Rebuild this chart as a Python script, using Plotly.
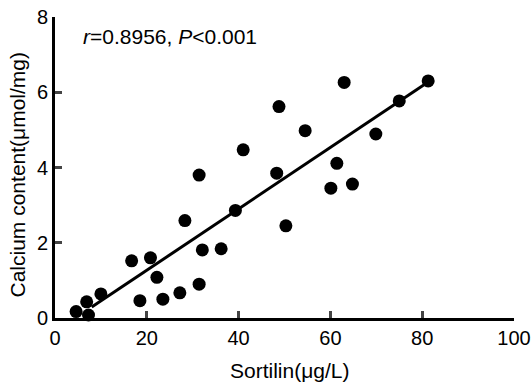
import plotly.graph_objects as go

sortilin = [4.6, 7.3, 6.9, 10.0, 16.7, 18.5, 20.8, 22.2, 23.5, 27.2, 28.3, 31.4, 31.4,
            32.1, 36.2, 39.3, 41.0, 48.3, 48.8, 50.3, 54.5, 60.1, 61.4, 63.0, 64.8,
            69.9, 75.0, 81.3]
calcium = [0.17, 0.08, 0.43, 0.64, 1.52, 0.46, 1.60, 1.08, 0.50, 0.67, 2.59, 0.90, 3.80,
           1.81, 1.84, 2.86, 4.47, 3.85, 5.62, 2.45, 4.98, 3.45, 4.11, 6.26, 3.56,
           4.89, 5.77, 6.30]

fit_x = [8.0, 81.3]
fit_y = [0.29, 6.27]

x_ticks = [0, 20, 40, 60, 80, 100]
y_ticks = [0, 2, 4, 6, 8]

x_title = "Sortilin(μg/L)"
y_title = "Calcium content(μmol/mg)"
stat_text = "<i>r</i>=0.8956, <i>P</i><0.001"

FONT = "Liberation Sans, Arial, sans-serif"
FS = 21
TFS = 20

fig = go.Figure()
fig.add_trace(go.Scatter(x=fit_x, y=fit_y, mode="lines",
                         line=dict(color="black", width=3), hoverinfo="skip"))
fig.add_trace(go.Scatter(x=sortilin, y=calcium, mode="markers",
                         marker=dict(color="black", size=13), cliponaxis=False))

fig.add_annotation(x=5.6, y=7.47, xref="x", yref="y", xanchor="left", yanchor="middle",
                   text=stat_text, showarrow=False,
                   font=dict(family=FONT, size=FS, color="black"))
fig.add_annotation(x=0, y=0.5, xref="paper", yref="paper", xanchor="center", yanchor="middle",
                   xshift=-38, yshift=-7, textangle=-90, text=y_title, showarrow=False,
                   font=dict(family=FONT, size=FS, color="black"))
fig.add_annotation(x=0.5, y=0, xref="paper", yref="paper", xanchor="center", yanchor="middle",
                   xshift=5, yshift=-52, text=x_title, showarrow=False,
                   font=dict(family=FONT, size=FS, color="black"))

fig.update_layout(
    width=531, height=383,
    margin=dict(l=55, r=17, t=17, b=65),
    plot_bgcolor="white", paper_bgcolor="white",
    showlegend=False,
    font=dict(family=FONT, size=FS, color="black"),
)
fig.update_xaxes(range=[0, 100], tickvals=x_ticks, ticks="inside", ticklen=7, tickwidth=3,
                 showline=True, linewidth=3, linecolor="black", showgrid=False, zeroline=False,
                 automargin=False, ticklabeloverflow="allow", tickfont=dict(size=TFS))
fig.update_yaxes(range=[0, 8], tickvals=y_ticks, ticks="inside", ticklen=7, tickwidth=3,
                 showline=True, linewidth=3, linecolor="black", showgrid=False, zeroline=False,
                 automargin=False, ticklabeloverflow="allow", tickfont=dict(size=TFS))

fig.write_html("out.html", config={"displayModeBar": False},
               post_script="document.body.style.margin='0';document.body.style.padding='0';")
